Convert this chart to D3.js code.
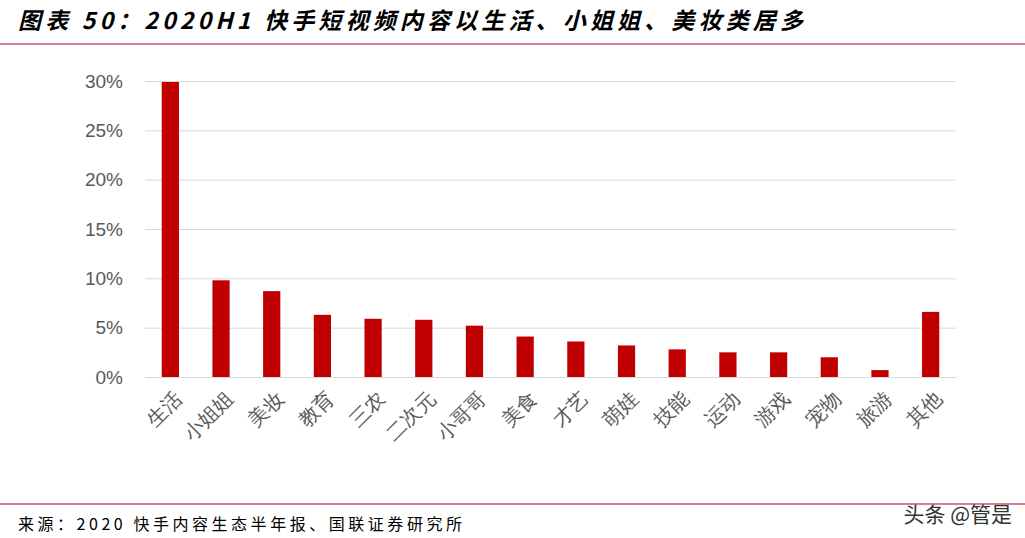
<!DOCTYPE html>
<html><head><meta charset="utf-8">
<script src="https://cdn.jsdelivr.net/npm/d3@7"></script>
<style>body{margin:0;background:#fff;font-family:"Noto Sans CJK SC",sans-serif;}</style>
</head><body><div id="chart"></div>
<script>
var categories = ['生活','小姐姐','美妆','教育','三农','二次元','小哥哥','美食','才艺','萌娃','技能','运动','游戏','宠物','旅游','其他'];
var shares = [29.9, 9.8, 8.7, 6.3, 5.9, 5.8, 5.2, 4.1, 3.6, 3.2, 2.8, 2.5, 2.5, 2.0, 0.7, 6.6];
var yTicks = [0, 5, 10, 15, 20, 25, 30];

var W = 1025, H = 538;
var margin = { top: 81, left: 145, right: 69, bottom: 161 };
var width = W - margin.left - margin.right;
var height = H - margin.top - margin.bottom;

var svg = d3.select('#chart').append('svg').attr('width', W).attr('height', H);

// title
svg.append('text').attr('x', 18).attr('y', 29)
  .attr('font-size', 23).attr('font-weight', 'bold').attr('font-style', 'italic')
  .attr('fill', '#000').attr('textLength', 785).attr('lengthAdjust', 'spacing')
  .text('图表 50：2020H1 快手短视频内容以生活、小姐姐、美妆类居多');
svg.append('line').attr('x1', 0).attr('x2', W).attr('y1', 44).attr('y2', 44)
  .attr('stroke', '#b0002a').attr('stroke-width', 1.2);
svg.append('line').attr('x1', 0).attr('x2', W).attr('y1', 504).attr('y2', 504)
  .attr('stroke', '#b0002a').attr('stroke-width', 1.2);
svg.append('text').attr('x', 18).attr('y', 530).attr('font-size', 16).attr('fill', '#000')
  .attr('textLength', 444).attr('lengthAdjust', 'spacing')
  .text('来源：2020 快手内容生态半年报、国联证券研究所');
svg.append('text').attr('x', 1012).attr('y', 522).attr('text-anchor', 'end')
  .attr('font-size', 21).attr('fill', '#333').text('头条 @管是');

var g = svg.append('g').attr('transform', 'translate(' + margin.left + ',' + margin.top + ')');

var x = d3.scaleBand().domain(categories).range([0, width]).paddingInner(0.66).paddingOuter(0.33);
var y = d3.scaleLinear().domain([0, 30]).range([height, 0]);

g.append('g').call(d3.axisLeft(y).tickValues(yTicks).tickSize(-width).tickFormat(function (d) { return d + '%'; }))
  .call(function (a) {
    a.select('.domain').remove();
    a.selectAll('line').attr('stroke', '#d9d9d9');
    a.selectAll('text').attr('x', -22).attr('font-size', 19).attr('fill', '#595959')
      .attr('font-family', 'Liberation Sans, Arial, sans-serif');
  });

g.selectAll('rect.bar').data(shares).enter().append('rect')
  .attr('class', 'bar')
  .attr('x', function (d, i) { return x(categories[i]); })
  .attr('width', x.bandwidth())
  .attr('y', function (d) { return y(d); })
  .attr('height', function (d) { return height - y(d); })
  .attr('fill', '#c00000');

var ax = g.append('g').attr('transform', 'translate(0,' + height + ')')
  .call(d3.axisBottom(x).tickSize(0));
ax.select('.domain').attr('stroke', '#d9d9d9');
ax.selectAll('text')
  .attr('font-size', 20).attr('fill', '#595959')
  .attr('text-anchor', 'end')
  .attr('dy', '0.35em')
  .attr('transform', 'translate(8,18) rotate(-45)')
  .attr('y', 0).attr('x', 0);
</script></body></html>
